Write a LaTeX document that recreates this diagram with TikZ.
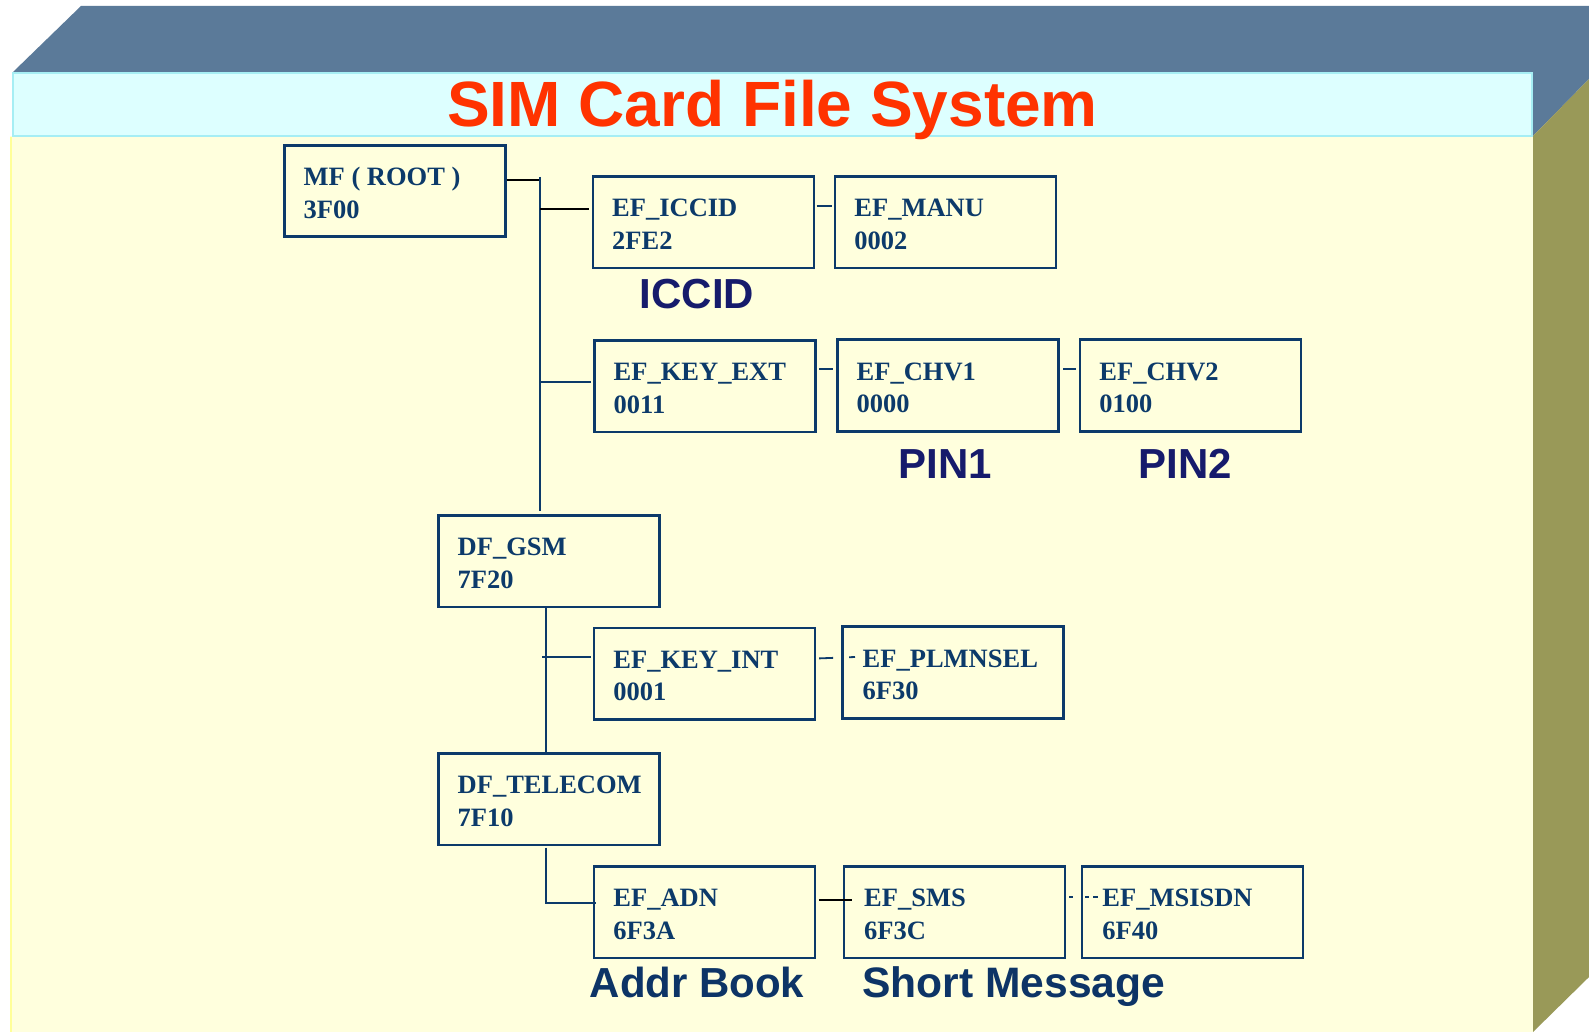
\documentclass[tikz,border=0pt]{standalone}
\usepackage{fontspec}
\setmainfont{Liberation Serif}
\newfontfamily\headfont{Liberation Sans}
\usetikzlibrary{calc}

\definecolor{topface}{HTML}{5B7A99}
\definecolor{sideface}{HTML}{999958}
\definecolor{frontface}{HTML}{FFFFDD}
\definecolor{frontedge}{HTML}{FFFF99}
\definecolor{bandfill}{HTML}{DDFFFF}
\definecolor{bandedge}{HTML}{A6EEF4}
\definecolor{titlered}{HTML}{FF3300}
\definecolor{navy}{HTML}{0C3A6A}
\definecolor{tagblue}{HTML}{161B6C}
\definecolor{capblue}{HTML}{0D3466}

\begin{document}
\begin{tikzpicture}[x=1pt,y=-1pt,
  filebox/.style={draw=navy, line width=2.7pt, rectangle, anchor=north west,
    minimum width=221pt, minimum height=91.5pt, inner sep=0pt},
  filetext/.style={anchor=base west, align=left, inner sep=0pt, text=navy,
    font=\fontsize{26.5}{32.4}\selectfont\bfseries},
  tag/.style={anchor=base, inner sep=0pt, text=tagblue,
    font=\headfont\fontsize{42}{48}\selectfont\bfseries},
  wire/.style={draw=navy, line width=2.2pt},
  wireblack/.style={draw=black, line width=1.9pt},
]
\useasboundingbox (0,0) rectangle (1589,1032);

% slab: top face, side face, front face and title band
\fill[white] (0,0) rectangle (1589,1032);
\fill[topface] (81,6) -- (1589,6) -- (1589,79) -- (1533,136) -- (13,136) -- (13,72) -- cycle;
\fill[sideface] (1533,136) -- (1589,79) -- (1589,977) -- (1533,1032) -- cycle;
\fill[frontface] (10,136) rectangle (1533,1032);
\draw[frontedge, line width=1.5pt] (10.8,137) -- (10.8,1032);
\draw[fill=bandfill, draw=bandedge, line width=2pt] (12.5,73) rectangle (1532,136.5);

\node[anchor=base, inner sep=0pt, text=titlered,
  font=\headfont\fontsize{64}{70}\selectfont\bfseries] (title) at (772.5,127) {SIM Card File System};

% file boxes
\node[filebox] (mf)      at (283,144)     {};
\node[filebox] (iccid)   at (591.5,175)   {};
\node[filebox] (manu)    at (833.7,175)   {};
\node[filebox] (keyext)  at (593,339)     {};
\node[filebox] (chv1)    at (836,338.3)   {};
\node[filebox] (chv2)    at (1078.7,338.3) {};
\node[filebox] (gsm)     at (437,514)     {};
\node[filebox] (keyint)  at (592.7,626.7) {};
\node[filebox] (plmnsel) at (841,625.3)   {};
\node[filebox] (telecom) at (437,752)     {};
\node[filebox] (adn)     at (592.7,865)   {};
\node[filebox] (sms)     at (842.5,865)   {};
\node[filebox] (msisdn)  at (1080.7,865)  {};

% file names and identifiers (base anchor sits on the second line)
\node[filetext] (mf-t)      at ($(mf.north west)+(20.5,74.2)$)      {MF ( ROOT )\\3F00};
\node[filetext] (iccid-t)   at ($(iccid.north west)+(20.5,74.2)$)   {EF\_ICCID\\2FE2};
\node[filetext] (manu-t)    at ($(manu.north west)+(20.5,74.2)$)    {EF\_MANU\\0002};
\node[filetext] (keyext-t)  at ($(keyext.north west)+(20.5,74.2)$)  {EF\_KEY\_EXT\\0011};
\node[filetext] (chv1-t)    at ($(chv1.north west)+(20.5,74.2)$)    {EF\_CHV1\\0000};
\node[filetext] (chv2-t)    at ($(chv2.north west)+(20.5,74.2)$)    {EF\_CHV2\\0100};
\node[filetext] (gsm-t)     at ($(gsm.north west)+(20.5,74.2)$)     {DF\_GSM\\7F20};
\node[filetext] (keyint-t)  at ($(keyint.north west)+(20.5,74.2)$)  {EF\_KEY\_INT\\0001};
\node[filetext] (plmnsel-t) at ($(plmnsel.north west)+(21.5,74.2)$) {EF\_PLMNSEL\\6F30};
\node[filetext] (telecom-t) at ($(telecom.north west)+(20.5,74.2)$) {DF\_TELECOM\\7F10};
\node[filetext] (adn-t)     at ($(adn.north west)+(20.5,74.2)$)     {EF\_ADN\\6F3A};
\node[filetext] (sms-t)     at ($(sms.north west)+(21.5,74.2)$)     {EF\_SMS\\6F3C};
\node[filetext] (msisdn-t)  at ($(msisdn.north west)+(21.5,74.2)$)  {EF\_MSISDN\\6F40};

% captions
\node[tag] (cap-iccid) at (697,308) {ICCID};
\node[tag] (cap-pin1)  at (945.5,478) {PIN1};
\node[tag] (cap-pin2)  at (1185,478) {PIN2};
\node[tag, text=capblue] (cap-addr) at (697,997) {Addr Book};
\node[tag, text=capblue, anchor=base west,
  font=\headfont\fontsize{42.6}{48}\selectfont\bfseries] (cap-sms) at (862,997) {Short Message};

% buses
\coordinate (busA) at (540,180);
\coordinate (busB) at (545.7,0);

% MF and its children
\draw[wireblack] (mf.east |- busA) -- (busA);
\draw[wire] ($(busA)+(0,-3)$) -- ($(busA |- gsm.north)+(0,-3)$);
\coordinate (tapIccid) at ($(iccid.north west)+(-3,34)$);
\draw[wireblack] (busA |- tapIccid) -- (tapIccid);
\coordinate (tapKeyExt) at ($(keyext.north west)+(-2,43)$);
\draw[wire] (busA |- tapKeyExt) -- (tapKeyExt);

% sibling links
\draw[wire] ($(iccid.north east)+(1.5,30.7)$) -- ($(manu.north west)+(-1.5,30.7)$);
\draw[wire] ($(keyext.north east)+(2.4,30)$) -- ($(chv1.north west)+(-3,30.7)$);
\draw[wire] ($(chv1.north east)+(3.4,30.7)$) -- ($(chv2.north west)+(-2.7,30.7)$);

% DF_GSM branch
\draw[wire] (gsm.south -| busB) -- (telecom.north -| busB);
\coordinate (tapKeyInt) at ($(keyint.north west)+(-2,30)$);
\draw[wire] ($(busB |- tapKeyInt)+(-3.5,0)$) -- (tapKeyInt);
\draw[wire, line width=1.8pt, dash pattern=on 14pt off 16pt on 6pt off 40pt]
  ($(keyint.north east)+(2.7,31.7)$) -- ($(plmnsel.north west)+(14,31.7)$);

% DF_TELECOM branch
\coordinate (tapAdn) at ($(adn.north west)+(3,37.7)$);
\draw[wire] ($(busB |- telecom.south)+(0,1.5)$) |- (tapAdn);
\draw[wireblack] ($(adn.north east)+(3,35)$) -- ($(sms.north west)+(9.5,35)$);
\draw[wire, line width=1.8pt, dash pattern=on 4pt off 12pt on 4pt off 4pt on 6pt off 40pt]
  ($(sms.north east)+(2.9,32)$) -- ($(msisdn.north west)+(17.3,32)$);
\end{tikzpicture}
\end{document}
